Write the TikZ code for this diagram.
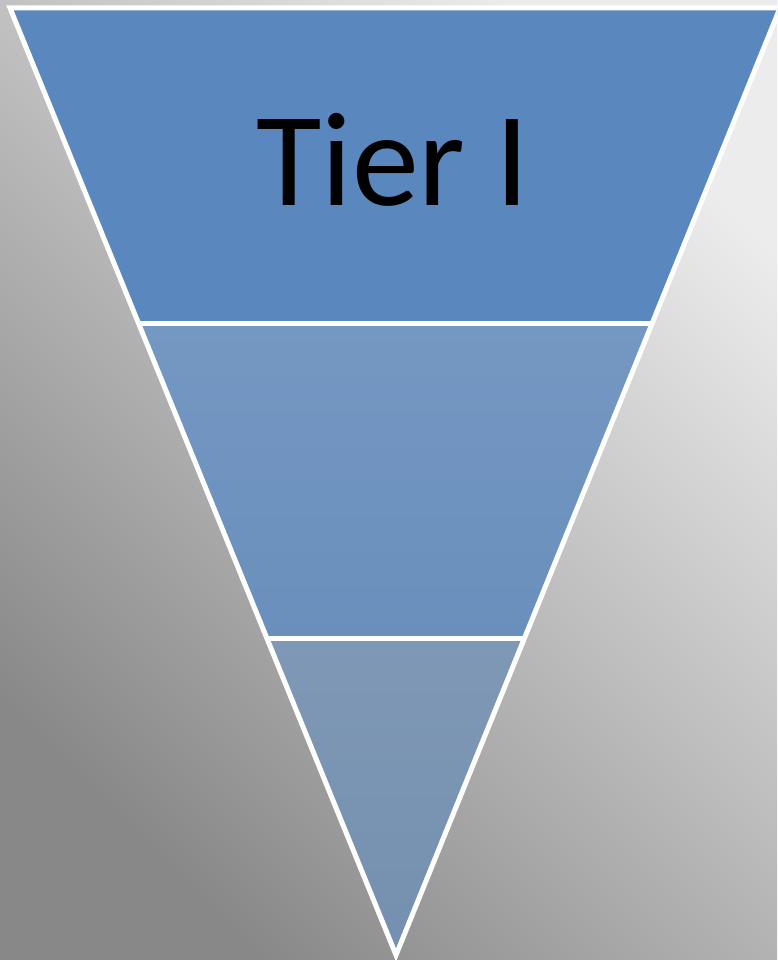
\documentclass[tikz,border=0pt]{standalone}
\usepackage{fontspec}
\setmainfont{Carlito}
\usetikzlibrary{calc}
\definecolor{tieronetop}{RGB}{90,135,190}
\definecolor{tiertwotop}{RGB}{116,152,194}
\definecolor{tiertwobot}{RGB}{106,143,188}
\definecolor{tierthreetop}{RGB}{126,152,181}
\definecolor{tierthreebot}{RGB}{117,143,176}
\definecolor{bglight}{RGB}{236,236,236}
\definecolor{bgdark}{RGB}{136,136,136}

\begin{document}
\begin{tikzpicture}[x=1pt, y=-1pt, band/.style={draw=white, line width=5pt, line join=miter}]
                \useasboundingbox (0,0) rectangle (777,960);
                \clip (0,0) rectangle (777,960);
                % backdrop
                \shade[left color=bglight, right color=bgdark, shading angle=-45] (0,0) rectangle (777,960);
                \coordinate (tl) at (10,8);
                \coordinate (tr) at (780,8);
                \coordinate (apex) at (396,955);
                \coordinate (ml) at ($(tl)!0.333!(apex)$);
                \coordinate (mr) at ($(tr)!0.333!(apex)$);
                \coordinate (ll) at ($(tl)!0.666!(apex)$);
                \coordinate (lr) at ($(tr)!0.666!(apex)$);
                % three tiers
                \fill[tieronetop] (tl) -- (tr) -- (mr) -- (ml) -- cycle;
                \shade[top color=tiertwotop, bottom color=tiertwobot] (ml) -- (mr) -- (lr) -- (ll) -- cycle;
                \shade[top color=tierthreetop, bottom color=tierthreebot] (ll) -- (lr) -- (apex) -- cycle;
                \draw[band] (tl) -- (tr) -- (apex) -- cycle;
                \draw[band] (ml) -- (mr);
                \draw[band] (ll) -- (lr);
                \node[anchor=base, font=\fontsize{134}{140}\selectfont, inner sep=0pt] (tierone) at (393,205) {Tier I};
            \end{tikzpicture}
\end{document}
